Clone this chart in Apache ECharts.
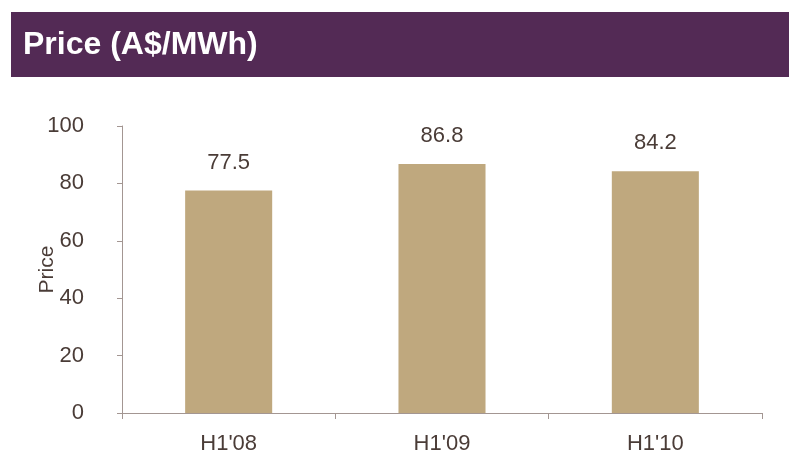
<!DOCTYPE html>
<html>
<head>
<meta charset="utf-8">
<script src="https://cdn.jsdelivr.net/npm/echarts@6/dist/echarts.min.js"></script>
<style>html,body{margin:0;padding:0;background:#fff}#c{width:789px;height:455px}</style>
</head>
<body>
<div id="c"></div>
<script>
const titleText = "Price (A$/MWh)";
const categories = ["H1'08", "H1'09", "H1'10"];
const prices = [77.5, 86.8, 84.2];
const yTicks = { min: 0, max: 100, interval: 20 };
const axisName = "Price";

const textColor = '#4a3c37';
const axisColor = '#a39692';
const font = 'Liberation Sans, Arial, sans-serif';

const chart = echarts.init(document.getElementById('c'), null, { renderer: 'canvas' });
chart.setOption({
  animation: false,
  backgroundColor: '#ffffff',
  graphic: [
    { type: 'rect', left: 11, top: 12, shape: { width: 778, height: 65 }, style: { fill: '#532a55' }, z: 0 },
    { type: 'text', x: 23, y: 45, style: { text: titleText, fill: '#ffffff', font: 'bold 32px ' + font, textVerticalAlign: 'middle', textAlign: 'left' }, z: 1 }
  ],
  grid: { left: 122, right: 27, top: 126, bottom: 41 },
  xAxis: {
    type: 'category',
    data: categories,
    axisLine: { lineStyle: { color: axisColor, width: 1 } },
    axisTick: { show: true, length: 6, lineStyle: { color: axisColor } },
    axisLabel: { color: textColor, fontSize: 22, fontFamily: font, margin: 20 }
  },
  yAxis: {
    type: 'value',
    min: yTicks.min, max: yTicks.max, interval: yTicks.interval,
    name: axisName,
    nameLocation: 'middle',
    nameRotate: 90,
    nameGap: 64,
    nameMoveOverlap: false,
    nameTextStyle: { color: textColor, fontSize: 21, fontFamily: font },
    axisLine: { show: true, lineStyle: { color: axisColor, width: 1 } },
    axisTick: { show: true, length: 5, lineStyle: { color: axisColor } },
    splitLine: { show: false },
    axisLabel: { color: textColor, fontSize: 22, fontFamily: font, margin: 38 }
  },
  series: [{
    type: 'bar',
    data: prices,
    barWidth: '40.8%',
    itemStyle: { color: '#bfa87e' },
    label: {
      show: true, position: 'top', distance: 17,
      color: textColor, fontSize: 22, fontFamily: font,
      formatter: p => p.value.toFixed(1)
    }
  }]
});
</script>
</body>
</html>
